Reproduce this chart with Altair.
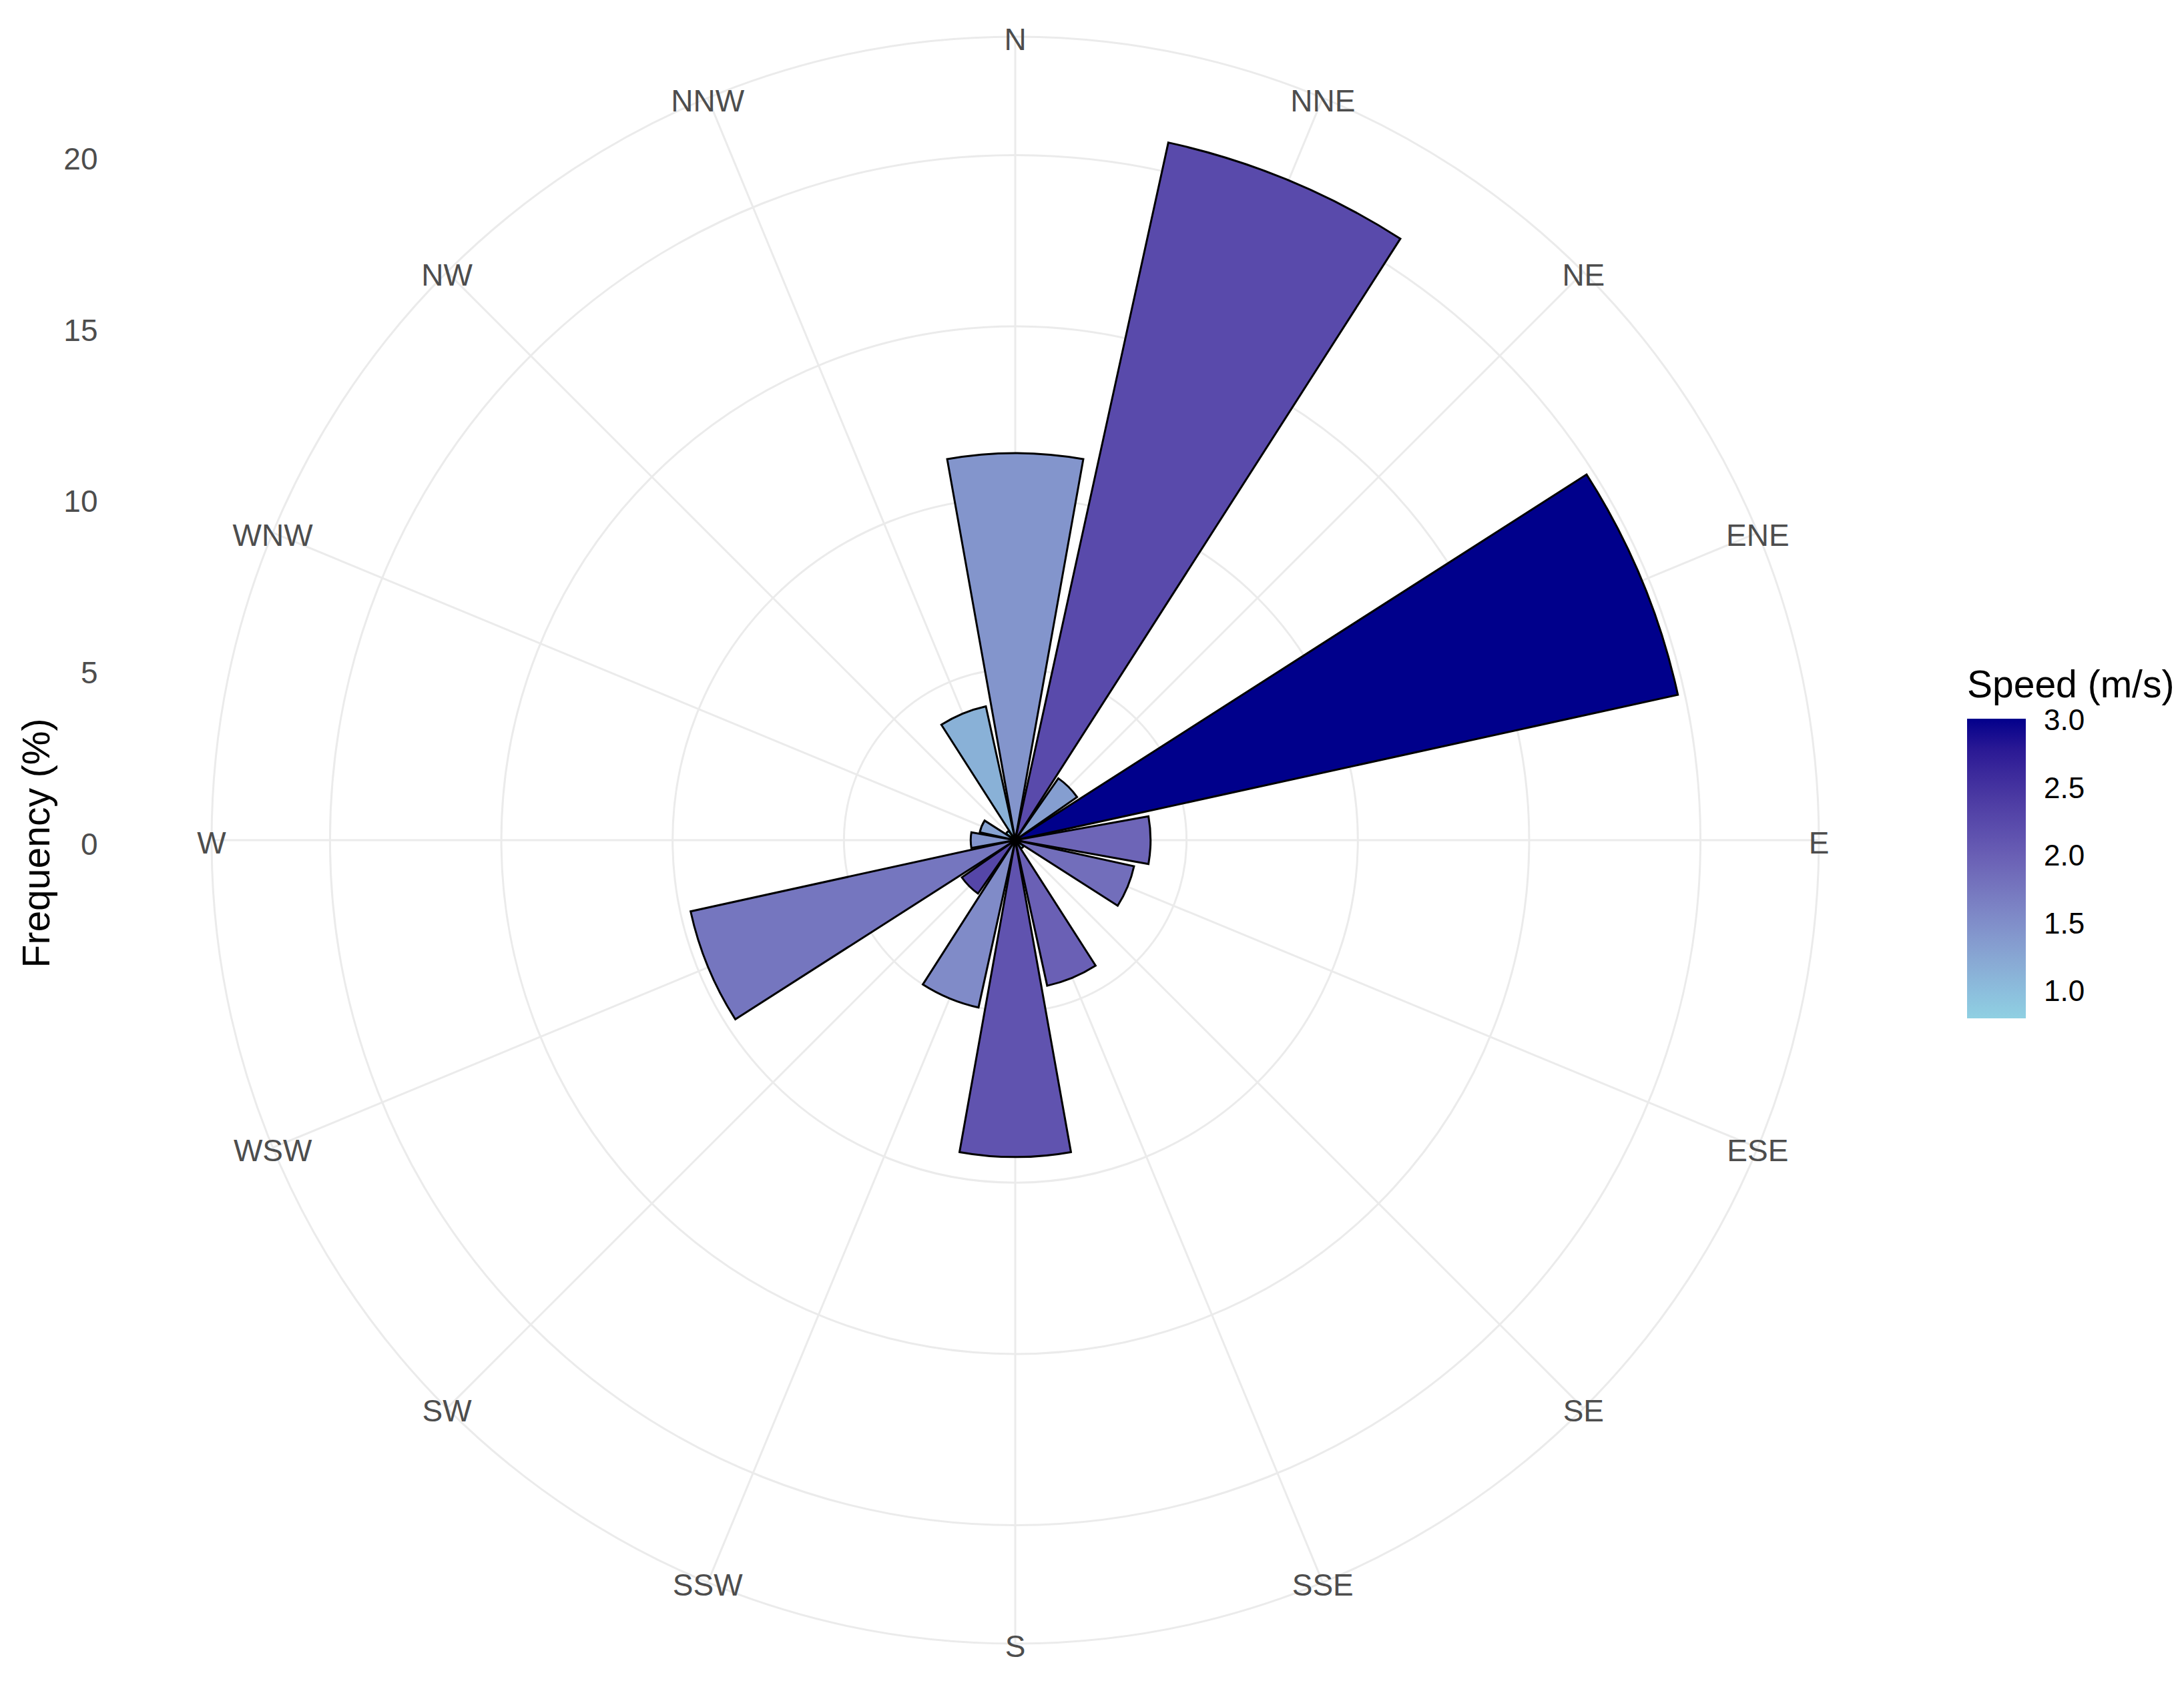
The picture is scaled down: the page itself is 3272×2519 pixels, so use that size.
import math
import altair as alt
import pandas as pd

# ---- data ----
directions = ["N", "NNE", "NE", "ENE", "E", "ESE", "SE", "SSE",
              "S", "SSW", "SW", "WSW", "W", "WNW", "NW", "NNW"]
frequency = [11.3, 20.85, 2.2, 19.8, 3.95, 3.55, 0.3, 4.35,
             9.25, 5.0, 1.9, 9.7, 1.3, 1.06, 0.33, 4.0]
speed = [1.45, 2.25, 1.35, 3.02, 1.95, 1.85, 0.9, 2.0,
         2.15, 1.55, 2.3, 1.77, 1.45, 1.3, 0.81, 1.15]
radial_breaks = [0, 5, 10, 15, 20]
legend_breaks = [1.0, 1.5, 2.0, 2.5, 3.0]

# colour ramp sampled from the reference colour bar
ramp_values = [min(speed), 1.0, 1.5, 2.0, 2.5, max(speed)]
ramp_colors = ["#8FD0E2", "#8CBFDD", "#8290CA", "#6A60B5", "#4634A0", "#00008B"]

# ---- geometry / style ----
SECTOR = 360 / len(directions)
BAR_WIDTH = 0.9
R_OUTER = max(frequency) * 0.45 / 0.4       # outer ring, as in coord_polar
R_OUTER_PX = 1204
W, H = 2722, 2478
PX_PER_UNIT = R_OUTER_PX / R_OUTER
Y_HALF = (H / 2) / PX_PER_UNIT
FONT = "Liberation Sans"
GRID = "#EBEBEB"

angles = [i * SECTOR for i in range(len(directions))]

bars = pd.DataFrame({
    "direction": directions,
    "frequency": frequency,
    "speed": speed,
    "start": [a - SECTOR * BAR_WIDTH / 2 for a in angles],
    "end": [a + SECTOR * BAR_WIDTH / 2 for a in angles],
})
rings = pd.DataFrame({"r": radial_breaks[1:] + [R_OUTER], "t0": 0.0, "t1": 360.0})
spokes = pd.DataFrame({"angle": angles, "r": R_OUTER, "r0": 0.0})
labels = pd.DataFrame({"direction": directions, "angle": angles, "r": R_OUTER})
axis_df = pd.DataFrame({"tick": radial_breaks})

theta_scale = alt.Scale(domain=[0, 360], range=[0, 2 * math.pi])
radius_scale = alt.Scale(type="linear", domain=[0, R_OUTER], range=[0, R_OUTER_PX],
                         zero=True, nice=False)

ring_layer = alt.Chart(rings).mark_arc(
    fill="transparent", stroke=GRID, strokeWidth=3
).encode(
    theta=alt.Theta("t0:Q", scale=theta_scale, stack=False),
    theta2="t1:Q",
    radius=alt.Radius("r:Q", scale=radius_scale),
)

spoke_layer = alt.Chart(spokes).mark_arc(
    fill="transparent", stroke=GRID, strokeWidth=3
).encode(
    theta=alt.Theta("angle:Q", scale=theta_scale, stack=False),
    theta2="angle:Q",
    radius=alt.Radius("r:Q", scale=radius_scale),
    radius2="r0:Q",
)

axis_layer = alt.Chart(axis_df).mark_point(opacity=0).encode(
    y=alt.Y(
        "tick:Q",
        scale=alt.Scale(domain=[-Y_HALF, Y_HALF], nice=False, zero=False),
        axis=alt.Axis(
            values=radial_breaks, format="d", title="Frequency (%)",
            grid=False, domain=False, ticks=False, tickSize=0,
            labelFontSize=46, labelColor="#4D4D4D", labelFont=FONT, labelPadding=14,
            labelOffset=7,
            titleFontSize=57, titleFont=FONT, titleFontWeight="normal", titleColor="black",
            titleX=-104, titleY=H / 2 + 4, titleAngle=270, titleAlign="center",
            titleBaseline="middle",
        ),
    )
)

bar_layer = alt.Chart(bars).mark_arc(stroke="black", strokeWidth=3).encode(
    theta=alt.Theta("start:Q", scale=theta_scale, stack=False),
    theta2="end:Q",
    radius=alt.Radius("frequency:Q", scale=radius_scale),
    color=alt.Color(
        "speed:Q",
        scale=alt.Scale(domain=ramp_values, range=ramp_colors,
                        interpolate="lab", nice=False, zero=False),
        legend=alt.Legend(
            title="Speed (m/s)", orient="none", legendX=2787, legendY=980,
            direction="vertical", gradientLength=449, gradientThickness=88,
            gradientStrokeWidth=0, values=legend_breaks, format=".1f",
            titleFontSize=57, titleFont=FONT, titleFontWeight="normal",
            titleColor="black", titlePadding=20, titleLimit=1000,
            labelFontSize=44, labelFont=FONT, labelColor="black", labelOffset=27,
        ),
    ),
)

label_layer = alt.Chart(labels).mark_text(
    fontSize=46, color="#4D4D4D", font=FONT, align="center", baseline="middle", dy=6
).encode(
    theta=alt.Theta("angle:Q", scale=theta_scale, stack=False),
    radius=alt.Radius("r:Q", scale=radius_scale),
    text="direction:N",
)

chart = alt.layer(
    ring_layer, spoke_layer, axis_layer, bar_layer, label_layer
).properties(
    width=W, height=H,
    padding={"left": 152, "top": 12, "right": 380, "bottom": 10},
    autosize=alt.AutoSizeParams(type="none"),
    background="white",
).configure(font=FONT).configure_view(strokeWidth=0, stroke="transparent")

chart.save("out.html", embed_options={"renderer": "svg", "actions": False})
